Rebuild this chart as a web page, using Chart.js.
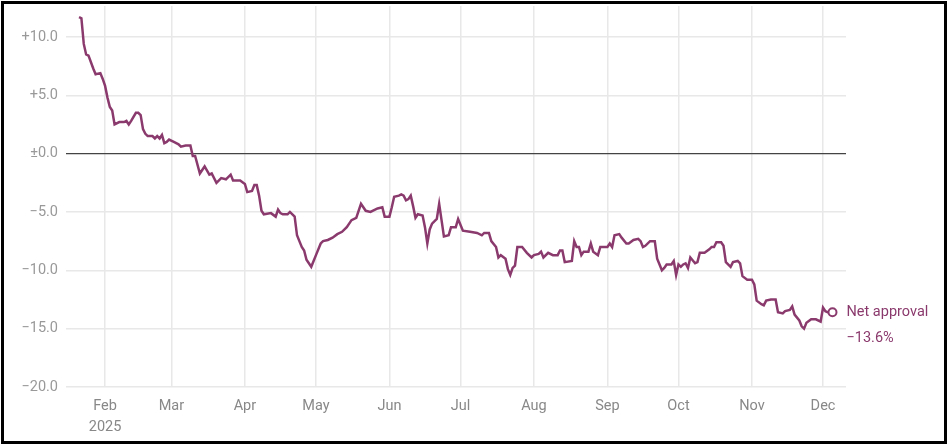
<!DOCTYPE html>
<html>
<head>
<meta charset="utf-8">
<script src="https://cdn.jsdelivr.net/npm/chart.js@4.4.1/dist/chart.umd.min.js"></script>
<style>
  html, body { margin: 0; padding: 0; background: #fff; }
  .wrap { position: relative; width: 948px; height: 447px; }
  .frame { position: absolute; left: 1px; top: 1px; width: 940px; height: 437px; border: 3px solid #000; pointer-events: none; }
  canvas { display: block; }
</style>
</head>
<body>
<div class="wrap">
  <canvas id="approval-chart" width="948" height="447"></canvas>
  <div class="frame"></div>
</div>
<script>
// days since Jan 1, 2025
const days = [
  20, 21, 22, 23, 24, 26, 27, 29, 30, 31, 32, 33, 34, 35, 37, 39, 40, 41, 42, 44,
  45, 46, 47, 48, 49, 51, 52, 53, 54, 55, 56, 57, 58, 60, 62, 63, 65, 67, 68, 69,
  71, 73, 75, 76, 78, 80, 82, 84, 85, 88, 90, 91, 93, 94, 95, 96, 97, 98, 101, 103,
  104, 105, 106, 108, 109, 111, 112, 113, 114, 115, 116, 118, 119, 120, 122, 123, 125, 127, 129, 131,
  133, 135, 137, 139, 141, 143, 146, 148, 149, 151, 152, 153, 155, 156, 157, 158, 159, 160, 161, 162,
  163, 165, 166, 167, 168, 169, 171, 172, 173, 174, 176, 177, 179, 180, 182, 185, 188, 190, 191, 193,
  194, 196, 197, 198, 200, 201, 202, 203, 204, 205, 207, 209, 211, 212, 214, 215, 216, 218, 220, 222,
  223, 224, 225, 228, 229, 230, 231, 232, 233, 235, 236, 237, 239, 240, 243, 244, 245, 246, 248, 249,
  251, 252, 254, 256, 257, 258, 259, 261, 263, 264, 266, 267, 268, 270, 271, 272, 273, 274, 275, 276,
  277, 278, 280, 281, 282, 284, 286, 287, 288, 289, 291, 292, 293, 295, 296, 298, 299, 300, 302, 304,
  305, 306, 308, 309, 310, 312, 314, 315, 317, 318, 320, 321, 322, 324, 325, 326, 327, 329, 331, 333,
  334, 335, 336, 338
];

// net approval (%)
const netApproval = [
  11.7, 11.6, 9.4, 8.5, 8.4, 7.3, 6.8, 6.9, 6.4, 5.8, 4.8, 4.0, 3.7, 2.5, 2.7, 2.7, 2.8, 2.5, 2.8, 3.5,
  3.5, 3.3, 2.1, 1.7, 1.5, 1.5, 1.3, 1.5, 1.3, 1.6, 0.9, 1.0, 1.2, 1.0, 0.8, 0.6, 0.7, 0.7, -0.2, -0.2,
  -1.7, -1.1, -1.8, -1.7, -2.5, -2.1, -2.2, -1.8, -2.3, -2.3, -2.6, -3.3, -3.2, -2.7, -2.7, -3.6, -4.9, -5.2, -5.1, -5.4,
  -4.8, -5.1, -5.2, -5.2, -5.0, -5.4, -7.0, -7.5, -8.0, -8.3, -9.1, -9.7, -9.2, -8.7, -7.7, -7.5, -7.4, -7.2, -6.9, -6.7,
  -6.3, -5.7, -5.5, -4.3, -4.9, -5.0, -4.7, -4.6, -5.4, -5.4, -4.6, -3.7, -3.6, -3.5, -3.6, -4.0, -3.9, -3.6, -4.5, -5.5,
  -5.2, -5.3, -6.3, -7.7, -6.5, -6.0, -5.6, -4.3, -5.7, -7.1, -7.0, -6.3, -6.3, -5.6, -6.6, -6.7, -6.8, -7.0, -6.8, -6.8,
  -7.5, -8.0, -8.9, -8.7, -9.0, -9.9, -10.4, -9.8, -9.6, -8.0, -8.0, -8.5, -8.9, -8.7, -8.6, -8.4, -8.9, -8.5, -8.7, -8.7,
  -8.3, -8.3, -9.3, -9.2, -7.5, -8.0, -8.0, -8.7, -8.4, -8.4, -7.7, -8.4, -8.7, -8.0, -8.0, -7.7, -8.0, -7.0, -6.9, -7.2,
  -7.7, -7.7, -7.4, -7.3, -7.5, -8.0, -7.9, -7.5, -7.5, -9.0, -10.0, -9.8, -9.5, -9.5, -9.2, -10.4, -9.5, -9.7, -9.5, -9.4,
  -9.8, -8.9, -9.4, -9.3, -8.5, -8.5, -8.2, -8.0, -8.0, -7.6, -7.6, -7.9, -9.3, -9.7, -9.3, -9.2, -9.4, -10.5, -10.8, -10.8,
  -11.2, -12.6, -12.9, -13.0, -12.6, -12.5, -12.5, -13.6, -13.7, -13.5, -13.4, -13.1, -13.8, -14.3, -14.8, -15.0, -14.5, -14.2, -14.2, -14.4,
  -13.2, -13.5, -13.6, -13.6
];

// x axis: first day of each month
const monthDays = [31, 59, 90, 120, 151, 181, 212, 243, 273, 304, 334];
const monthLabels = [['Feb', '2025'], 'Mar', 'Apr', 'May', 'Jun', 'Jul', 'Aug', 'Sep', 'Oct', 'Nov', 'Dec'];

// y axis
const yTicks = [-20, -15, -10, -5, 0, 5, 10];
const yLabels = ['\u221220.0', '\u221215.0', '\u221210.0', '\u22125.0', '\u00b10.0', '+5.0', '+10.0'];

const seriesName = 'Net approval';
const lastLabel = '\u221213.6%';

const LINE_COLOR = '#8b3a6d';
const FONT = 'Roboto, "Liberation Sans", sans-serif';

// end label next to the last point
const endLabel = {
    id: 'endLabel',
    afterDatasetsDraw(chart) {
        const meta = chart.getDatasetMeta(0);
        const pt = meta.data[meta.data.length - 1];
        if (!pt) return;
        const c = chart.ctx;
        c.save();
        c.fillStyle = LINE_COLOR;
        c.font = '14.5px ' + FONT;
        c.textAlign = 'left';
        c.textBaseline = 'middle';
        c.fillText(seriesName, pt.x + 14, pt.y);
        c.fillText(lastLabel, pt.x + 14, pt.y + 26);
        c.restore();
    }
};

const points = days.map((d, i) => ({ x: d, y: netApproval[i] }));
const lastIdx = points.length - 1;

new Chart(document.getElementById('approval-chart'), {
    type: 'line',
    data: {
        datasets: [{
            label: seriesName,
            data: points,
            borderColor: LINE_COLOR,
            borderWidth: 2.5,
            tension: 0,
            pointRadius: ctx => ctx.dataIndex === lastIdx ? 4 : 0,
            pointBorderWidth: 2,
            pointBorderColor: LINE_COLOR,
            pointBackgroundColor: '#fff',
            fill: false
        }]
    },
    options: {
        responsive: false,
        animation: false,
        events: [],
        layout: { padding: { top: 2, right: 102, bottom: 0, left: 0 } },
        plugins: {
            legend: { display: false },
            tooltip: { enabled: false }
        },
        scales: {
            x: {
                type: 'linear',
                min: 14.5,
                max: 343.7,
                afterBuildTicks: s => { s.ticks = monthDays.map(v => ({ value: v })); },
                afterFit: s => { s.height = 60; s.paddingLeft = 0; s.paddingRight = 0; },
                grid: { color: '#e8e8e8', lineWidth: 1.5, drawTicks: false },
                border: { display: false },
                ticks: {
                    padding: 8,
                    color: '#888',
                    maxRotation: 0,
                    autoSkip: false,
                    font: { family: FONT, size: 14.5, lineHeight: 1.5 },
                    callback: (v) => monthLabels[monthDays.indexOf(v)]
                }
            },
            y: {
                min: -20,
                max: 12.65,
                afterBuildTicks: s => { s.ticks = yTicks.map(v => ({ value: v })); },
                afterFit: s => { s.width = 66; s.paddingTop = 0; s.paddingBottom = 0; },
                grid: {
                    drawTicks: false,
                    color: ctx => ctx.tick && ctx.tick.value === 0 ? '#444' : '#e8e8e8',
                    lineWidth: ctx => ctx.tick && ctx.tick.value === 0 ? 1.2 : 1.5
                },
                border: { display: false },
                ticks: {
                    padding: 8,
                    color: '#999',
                    font: { family: FONT, size: 14.5 },
                    callback: (v) => yLabels[yTicks.indexOf(v)]
                }
            }
        }
    },
    plugins: [endLabel]
});
</script>
</body>
</html>
